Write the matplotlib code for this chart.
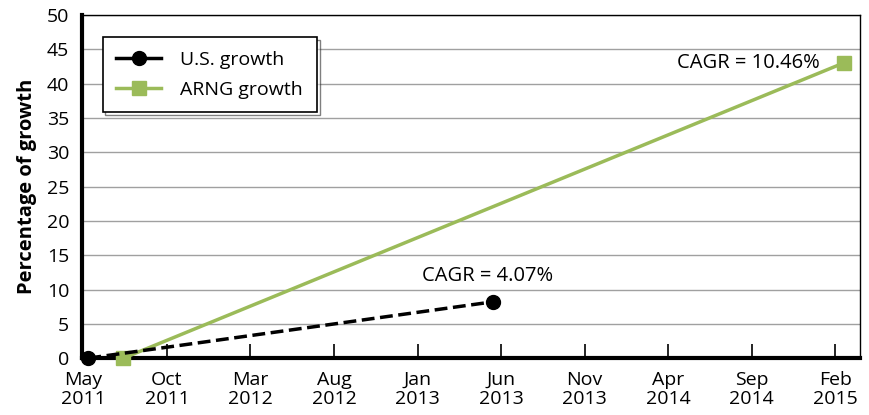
import matplotlib.pyplot as plt
from matplotlib.lines import Line2D
import numpy as np

plt.rcParams['font.family'] = ['Open Sans', 'DejaVu Sans']

# x positions are months counted from May 2011
tick_months = [0, 5, 10, 15, 20, 25, 30, 35, 40, 45]
tick_labels = ['May\n2011', 'Oct\n2011', 'Mar\n2012', 'Aug\n2012', 'Jan\n2013',
               'Jun\n2013', 'Nov\n2013', 'Apr\n2014', 'Sep\n2014', 'Feb\n2015']

us_x = [0.3, 24.5]
us_y = [0.0, 8.2]
arng_x = [2.4, 45.5]
arng_y = [0.0, 43.0]

green = '#9BBB59'

fig = plt.figure(figsize=(8.69, 4.15), dpi=100)
ax = fig.add_axes([0.094, 0.137, 0.896, 0.827])

ax.plot(us_x, us_y, color='black', linestyle='--', linewidth=2.5,
        marker='o', markersize=10, zorder=4, clip_on=False)
ax.plot(arng_x, arng_y, color=green, linewidth=2.5,
        marker='s', markersize=10, zorder=3, clip_on=False)

ax.set_xlim(-0.1, 46.5)
ax.set_ylim(0, 50)
ax.set_yticks(np.arange(0, 51, 5))
ax.set_xticks(tick_months)
ax.set_xticklabels(tick_labels, linespacing=1.1)
ax.tick_params(axis='x', direction='in', length=10, width=1.2, labelsize=14, pad=9)
ax.tick_params(axis='y', length=0, labelsize=14, pad=9)
ax.grid(axis='y', color='#a0a0a0', linewidth=1)
ax.set_axisbelow(True)

for s in ['top', 'right']:
    ax.spines[s].set_linewidth(1)
ax.spines['left'].set_linewidth(3)
ax.spines['bottom'].set_linewidth(3)

ax.set_ylabel('Percentage of growth', fontsize=14.5, fontweight='bold', labelpad=7)

ax.text(us_x[1] - 0.3, us_y[1] + 2.3, 'CAGR = 4.07%', fontsize=14.5, ha='center', va='bottom')
ax.text(arng_x[1] - 1.4, arng_y[1], 'CAGR = 10.46%', fontsize=14.5, ha='right', va='center')

handles = [Line2D([], [], color='black', linewidth=2.5, marker='o', markersize=10),
           Line2D([], [], color=green, linewidth=2.5, marker='s', markersize=10)]
leg = ax.legend(handles, ['U.S. growth', 'ARNG growth'], loc='upper left',
                bbox_to_anchor=(0.027, 0.935), fontsize=14,
                frameon=True, fancybox=False, edgecolor='black', handlelength=2.3,
                handletextpad=1.0, borderpad=0.7, labelspacing=0.6, borderaxespad=0,
                shadow={'facecolor': 'white', 'edgecolor': 'black', 'linewidth': 1})
leg.get_frame().set_linewidth(1.2)

fig.savefig('out.png', dpi=100)
